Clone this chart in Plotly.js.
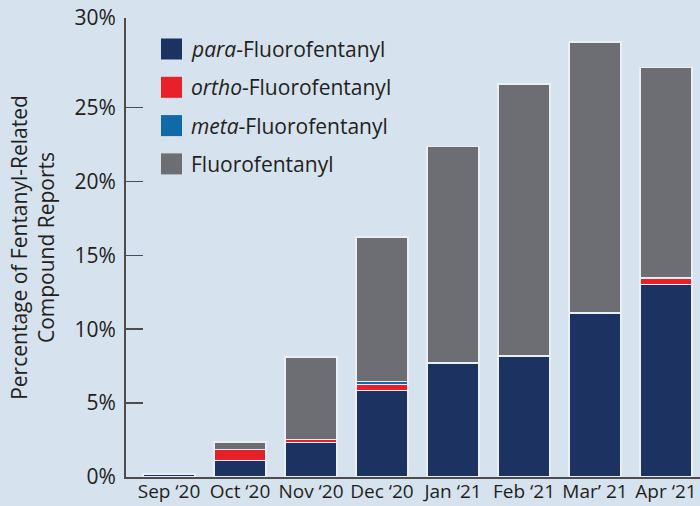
<!DOCTYPE html>
<html>
<head>
<meta charset="utf-8">
<script src="https://cdn.plot.ly/plotly-3.0.1.min.js"></script>
<style>
  html, body { margin: 0; padding: 0; background: #d6e2ee; }
  #chart { width: 700px; height: 506px; }
</style>
</head>
<body>
<div id="chart"></div>
<script>
// ---- data (percent of fentanyl-related compound reports) ----
const categories = ["Sep \u201820", "Oct \u201820", "Nov \u201820", "Dec \u201820", "Jan \u201821", "Feb \u201821", "Mar\u2019 21", "Apr \u201821"];
const paraValues   = [0.20, 1.13, 2.32, 5.85, 7.70, 8.14, 11.09, 13.02];
const orthoValues  = [0.05, 0.73, 0.20, 0.41, 0.02, 0.05, 0.05, 0.44];
const metaValues   = [0.00, 0.00, 0.00, 0.18, 0.00, 0.00, 0.00, 0.00];
const fluoroValues = [0.00, 0.50, 5.59, 9.80, 14.63, 18.39, 18.29, 14.23];

const seriesNames  = ["<i>para</i>-Fluorofentanyl", "<i>ortho</i>-Fluorofentanyl", "<i>meta</i>-Fluorofentanyl", "Fluorofentanyl"];
const seriesColors = ["#1c3260", "#e8202a", "#106aaa", "#6d6e73"];
const seriesValues = [paraValues, orthoValues, metaValues, fluoroValues];

const yTickVals = [0, 5, 10, 15, 20, 25, 31.05];
const yTickText = ["0%", "5%", "10%", "15%", "20%", "25%", "30%"];

// ---- layout geometry ----
const W = 700, H = 506;
const M = { l: 126, r: 0, t: 18, b: 29 };
const plotW = W - M.l - M.r, plotH = H - M.t - M.b;
const px2x = px => (px - M.l) / plotW;
const px2y = py => (H - M.b - py) / plotH;

const FONT = "Open Sans, Noto Sans, sans-serif";
const TXT = "#231f20";

const traces = seriesValues.map((vals, i) => ({
  type: "bar",
  x: categories,
  y: vals,
  name: seriesNames[i],
  marker: { color: seriesColors[i], line: { color: "#e9eff5", width: 1.3 } },
  showlegend: false,
  hoverinfo: "x+y+name"
}));

// custom legend (large square keys)
const shapes = [];
const annotations = [];
const legendRowY = [49, 87.3, 125.6, 163.9];
seriesNames.forEach((name, i) => {
  const cy = legendRowY[i];
  shapes.push({
    type: "rect", xref: "paper", yref: "paper",
    x0: px2x(161), x1: px2x(182), y0: px2y(cy + 10.5), y1: px2y(cy - 10.5),
    fillcolor: seriesColors[i], line: { width: 0 }
  });
  annotations.push({
    xref: "paper", yref: "paper", x: px2x(189), y: px2y(cy),
    xanchor: "left", yanchor: "middle", showarrow: false,
    text: name, font: { family: FONT, size: 21, color: TXT }
  });
});

const layout = {
  width: W, height: H,
  margin: M,
  paper_bgcolor: "#d6e2ee",
  plot_bgcolor: "#d6e2ee",
  barmode: "stack",
  bargap: 0.268,
  showlegend: false,
  font: { family: FONT, color: TXT },
  xaxis: {
    type: "category",
    range: [-0.606, 7.479],
    showline: true, linecolor: "#4d4d4f", linewidth: 2,
    ticks: "", showgrid: false, zeroline: false,
    tickfont: { family: FONT, size: 19, color: TXT },
    ticklabelstandoff: -4,
    automargin: false
  },
  yaxis: {
    range: [0, 31.05],
    tickvals: yTickVals, ticktext: yTickText,
    ticks: "inside", ticklen: 17, tickwidth: 1.5, tickcolor: "#4d4d4f",
    showline: true, linecolor: "#4d4d4f", linewidth: 2,
    showgrid: false, zeroline: false,
    tickfont: { family: FONT, size: 21, color: TXT },
    ticklabelstandoff: 4,
    automargin: false,
    title: {
      text: "Percentage of Fentanyl-Related<br>Compound Reports",
      font: { family: FONT, size: 21, color: TXT },
      standoff: 14
    }
  },
  shapes: shapes,
  annotations: annotations
};

Plotly.newPlot("chart", traces, layout, { displayModeBar: false, staticPlot: true });
</script>
</body>
</html>
